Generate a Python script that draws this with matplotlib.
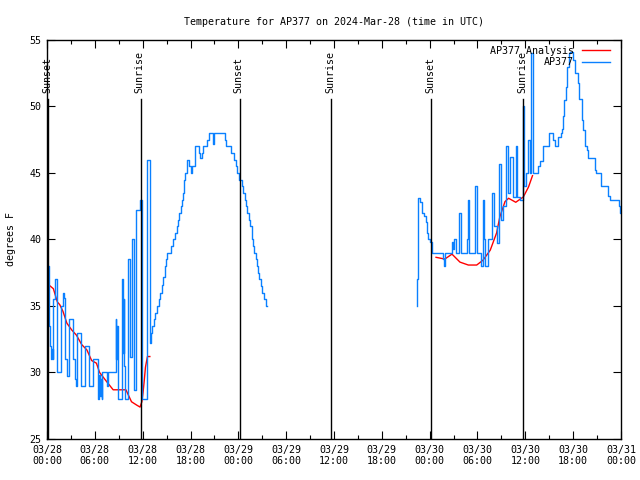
import numpy as np
import matplotlib
matplotlib.use("Agg")
import matplotlib.pyplot as plt

# ---- data (hours since 03/28 00:00 UTC, degrees F) ----
obs1_h = [0.00, 0.29, 0.40, 0.50, 0.62, 0.71, 0.79, 0.96, 1.30, 1.80, 1.96, 2.13, 2.30, 2.47,
          2.80, 3.30, 3.47, 3.64, 3.81, 4.31, 4.72, 5.31, 5.81, 6.36, 6.45, 6.55, 6.65, 6.75,
          6.85, 6.94, 7.55, 7.69, 8.61, 8.70, 8.78, 8.86, 8.95, 9.37, 9.50, 9.60, 9.70, 9.80,
          10.20, 10.45, 10.62, 10.87, 11.21, 11.71, 11.87, 12.54, 12.88, 13.05, 13.20, 13.40,
          13.60, 13.80, 14.00, 14.20, 14.40, 14.60, 14.80, 14.95, 15.05, 15.60, 15.85, 16.05,
          16.30, 16.45, 16.60, 16.75, 16.90, 17.05, 17.20, 17.35, 17.50, 17.85, 18.00, 18.25,
          18.57, 19.10, 19.25, 19.40, 19.53, 20.10, 20.37, 20.85, 21.00, 22.30, 22.45, 23.10,
          23.40, 23.70, 23.85, 24.10, 24.40, 24.60, 24.80, 24.95, 25.10, 25.30, 25.50, 25.70,
          25.85, 26.00, 26.20, 26.35, 26.50, 26.65, 26.80, 27.00, 27.20, 27.45, 27.60]
obs1_t = [38.0, 33.5, 32.0, 31.0, 31.8, 31.0, 35.5, 37.0, 30.0, 35.0, 36.0, 35.6, 31.0, 29.7,
          34.0, 31.0, 29.5, 29.0, 33.0, 29.0, 32.0, 29.0, 31.0, 29.4, 28.0, 29.8, 28.2, 29.5,
          28.0, 30.0, 29.0, 30.0, 34.0, 31.0, 33.5, 30.5, 28.0, 37.0, 31.5, 35.5, 30.5, 28.0,
          38.5, 31.2, 40.0, 28.7, 42.2, 43.0, 28.0, 46.0, 32.2, 33.0, 33.5, 34.0,
          34.5, 35.0, 35.5, 36.0, 36.6, 37.2, 38.0, 38.5, 39.0, 39.5, 40.0, 40.5,
          41.0, 41.5, 42.0, 42.5, 43.0, 43.5, 44.5, 45.0, 46.0, 45.5, 45.0, 45.5,
          47.0, 46.5, 46.1, 46.5, 47.0, 47.5, 48.0, 47.2, 48.0, 47.5, 47.0, 46.5,
          46.0, 45.5, 45.0, 44.5, 44.0, 43.5, 43.0, 42.5, 42.0, 41.5, 41.0, 40.0,
          39.5, 39.0, 38.5, 38.0, 37.5, 37.0, 36.5, 36.0, 35.5, 35.0, 35.0]

obs2_h = [46.37, 46.45, 46.52, 46.58, 46.83, 47.00, 47.25, 47.50, 47.67, 47.83, 48.08, 48.25,
          48.33, 49.70, 49.80, 49.92, 50.76, 50.90, 51.00, 51.26, 51.72, 51.89, 52.64, 52.85,
          52.97, 53.69, 53.94, 54.50, 54.73, 54.85, 54.94, 55.36, 55.78, 56.05, 56.40, 56.70,
          57.00, 57.25, 57.60, 57.85, 58.05, 58.40, 58.85, 59.00, 59.33, 59.75, 59.85, 60.10,
          60.35, 60.60, 60.75, 61.00, 61.60, 61.84, 62.18, 63.01, 63.52, 63.70, 64.14, 64.43,
          64.56, 64.68, 64.85, 65.10, 65.27, 65.44, 65.60, 66.02, 66.23, 66.57, 66.77, 67.07,
          67.28, 67.49, 67.69, 67.90, 68.74, 68.87, 69.45, 70.41, 70.62, 71.75, 71.88, 72.00]
obs2_t = [35.0, 37.0, 41.1, 43.1, 42.8, 42.0, 41.8, 41.3, 40.5, 40.0, 39.8, 39.3,
          39.0, 38.5, 38.0, 39.0, 39.8, 39.3, 40.0, 39.0, 42.0, 39.0, 40.0, 43.0,
          39.0, 44.0, 39.0, 38.0, 43.0, 40.0, 38.0, 40.0, 43.5, 41.0, 39.7, 45.7,
          41.5, 42.5, 47.0, 43.5, 46.2, 43.2, 47.0, 43.2, 43.0, 50.0, 44.0, 45.0,
          47.5, 45.0, 54.0, 45.0, 45.5, 45.9, 47.0, 48.0, 47.5, 47.0, 47.7, 48.0,
          48.3, 49.25, 50.5, 51.5, 53.0, 54.0, 54.1, 53.5, 52.5, 51.75, 50.6, 49.0,
          48.25, 47.0, 46.75, 46.1, 45.25, 45.0, 44.0, 43.25, 43.0, 42.5, 42.0, 42.0]

ana1_h = [0.4, 0.8, 1.3, 1.6, 2.0, 2.5, 3.1, 3.7, 4.35, 5.0, 5.6, 6.2, 6.6, 7.5, 8.3, 9.9,
          10.6, 11.25, 11.67, 11.9, 12.05, 12.2, 12.35, 12.6, 12.9]
ana1_t = [36.5, 36.3, 35.3, 35.1, 34.6, 33.7, 33.2, 32.8, 32.1, 31.7, 30.9, 30.7, 30.0, 29.3,
          28.7, 28.7, 27.8, 27.55, 27.4, 27.8, 28.5, 29.4, 30.4, 31.2, 31.2]
ana2_h = [48.8, 49.9, 50.8, 51.8, 52.85, 53.9, 54.7, 55.6, 56.4, 56.8, 57.45, 57.9, 58.8,
          59.75, 60.4, 60.9]
ana2_t = [38.66, 38.53, 38.9, 38.3, 38.08, 38.08, 38.45, 39.2, 40.5, 41.7, 42.85, 43.1, 42.8,
          43.2, 43.95, 44.8]

sun_h = [0.15, 11.75, 24.15, 35.65, 48.2, 59.72]
sun_lbl = ["Sunset", "Sunrise", "Sunset", "Sunrise", "Sunset", "Sunrise"]

xtick_h = list(range(0, 73, 6))
xtick_lbl = ["03/28\n00:00", "03/28\n06:00", "03/28\n12:00", "03/28\n18:00",
             "03/29\n00:00", "03/29\n06:00", "03/29\n12:00", "03/29\n18:00",
             "03/30\n00:00", "03/30\n06:00", "03/30\n12:00", "03/30\n18:00",
             "03/31\n00:00"]
ytick_v = [25, 30, 35, 40, 45, 50, 55]

title = "Temperature for AP377 on 2024-Mar-28 (time in UTC)"

plt.rcParams['font.family'] = ['DejaVu Sans Mono']
FS = 7.2

fig = plt.figure(figsize=(6.4, 4.8), dpi=100)
ax = fig.add_axes([47/640, 41/480, 574/640, 399/480])

blue = '#0a80ff'
ax.plot(ana1_h, ana1_t, color='red', lw=1.0, label='AP377 Analysis')
ax.plot(ana2_h, ana2_t, color='red', lw=1.0)
ax.step(obs1_h, obs1_t, where='post', color=blue, lw=1.0, label='AP377')
ax.step(obs2_h, obs2_t, where='post', color=blue, lw=1.0)

for h, lbl in zip(sun_h, sun_lbl):
    ax.plot([h, h], [25, 50.55], color='black', lw=1.0)
    ax.text(h - 0.15, 51.05, lbl, rotation=90, ha='center', va='bottom', fontsize=FS)

ax.set_xlim(0, 72)
ax.set_ylim(25, 55)
ax.set_xticks(xtick_h)
ax.set_xticklabels(xtick_lbl, fontsize=FS)
ax.set_xticks(list(range(0, 73, 3)), minor=True)
ax.set_yticks(ytick_v)
ax.set_yticklabels([str(v) for v in ytick_v], fontsize=FS)
ax.tick_params(which='major', direction='in', top=True, right=True, length=6, width=0.8, pad=4)
ax.tick_params(which='minor', direction='in', top=True, right=True, length=3, width=0.8)
for s in ax.spines.values():
    s.set_linewidth(1.0)

ax.set_title(title, fontsize=FS, pad=11)
ax.set_ylabel("degrees F", fontsize=FS, labelpad=10)

leg = ax.legend(loc='upper right', bbox_to_anchor=(1.0, 1.0 + 5/399), frameon=False,
                fontsize=FS, markerfirst=False, handlelength=2.8, borderaxespad=0.7,
                labelspacing=0.15, handletextpad=0.8)

fig.savefig("out.png", dpi=100)
